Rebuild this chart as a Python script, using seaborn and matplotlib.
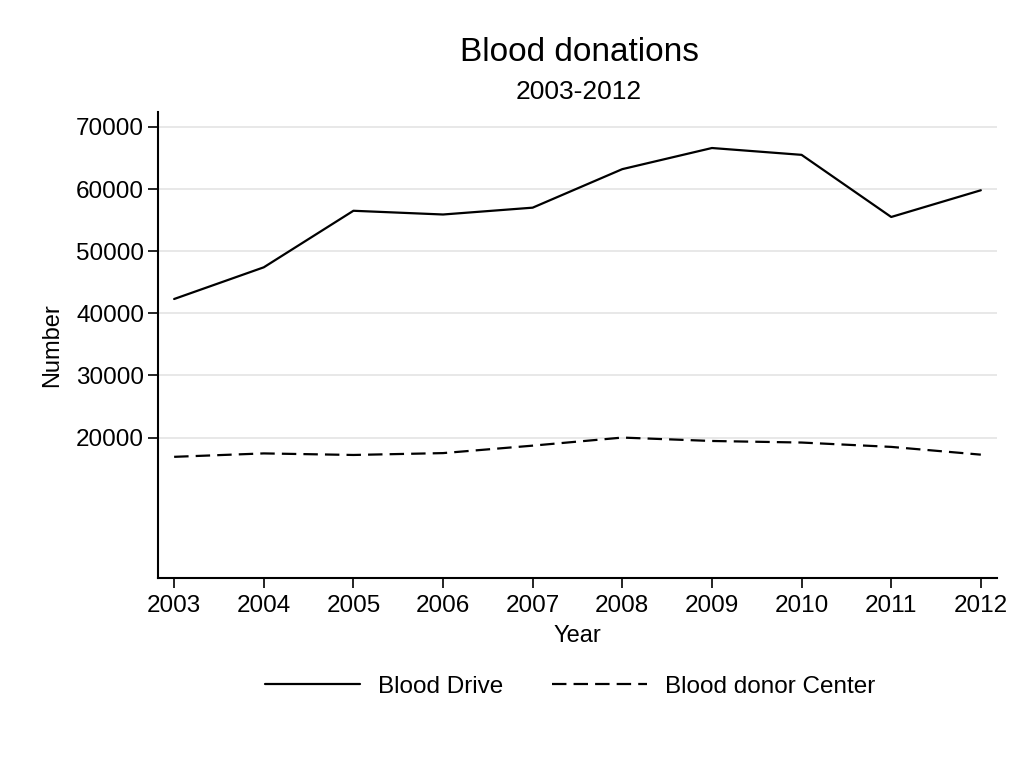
import pandas as pd
import matplotlib
matplotlib.use("Agg")
import matplotlib.pyplot as plt
import seaborn as sns

# values
years = [2003, 2004, 2005, 2006, 2007, 2008, 2009, 2010, 2011, 2012]
blood_drive = [42300, 47400, 56500, 55900, 57000, 63200, 66600, 65500, 55500, 59800]
donor_center = [16900, 17450, 17200, 17500, 18700, 20000, 19450, 19200, 18500, 17250]
series_names = ["Blood Drive", "Blood donor Center"]
y_ticks = [20000, 30000, 40000, 50000, 60000, 70000]

df = pd.DataFrame({
    "Year": years * 2,
    "Number": blood_drive + donor_center,
    "Series": [series_names[0]] * len(years) + [series_names[1]] * len(years),
})

sns.set_style("white")
plt.rcParams["font.family"] = ["Liberation Sans", "DejaVu Sans"]
plt.rcParams["text.color"] = "black"
plt.rcParams["axes.labelcolor"] = "black"
plt.rcParams["xtick.color"] = "black"
plt.rcParams["ytick.color"] = "black"

fig = plt.figure(figsize=(10.24, 7.68), dpi=100)
ax = fig.add_axes([0.1543, 0.2474, 0.8193, 0.6068])

sns.lineplot(data=df, x="Year", y="Number", style="Series", color="black",
             dashes={series_names[0]: "", series_names[1]: (6.5, 3.2)},
             linewidth=1.6, ax=ax, legend=False)

ax.set_xlim(2002.82, 2012.18)
ax.set_ylim(-2600, 72400)
ax.set_xticks(years)
ax.set_yticks(y_ticks)
ax.grid(axis="y", color="#e6e6e6", linewidth=1.3)
ax.set_axisbelow(True)

for side in ["top", "right"]:
    ax.spines[side].set_visible(False)
for side in ["left", "bottom"]:
    ax.spines[side].set_color("black")
    ax.spines[side].set_linewidth(1.5)

ax.tick_params(axis="both", which="both", direction="out", length=7, width=1.2,
               color="black", labelsize=17.5, left=True, bottom=True)
ax.tick_params(axis="y", pad=3)
ax.tick_params(axis="x", pad=5)

ax.set_xlabel("Year", fontsize=17, labelpad=6)
ax.set_ylabel("Number", fontsize=17, labelpad=9)

fig.text(0.5655, 0.931, "Blood donations", ha="center", va="center", fontsize=24)
fig.text(0.5655, 0.880, "2003-2012", ha="center", va="center", fontsize=19)

handles = ax.get_lines()[:2]
fig.legend(handles, series_names, loc="center", bbox_to_anchor=(0.557, 0.106),
           ncol=2, frameon=False, fontsize=17.5, handlelength=3.9,
           handletextpad=0.75, columnspacing=2.0)

fig.savefig("out.png", dpi=100)
